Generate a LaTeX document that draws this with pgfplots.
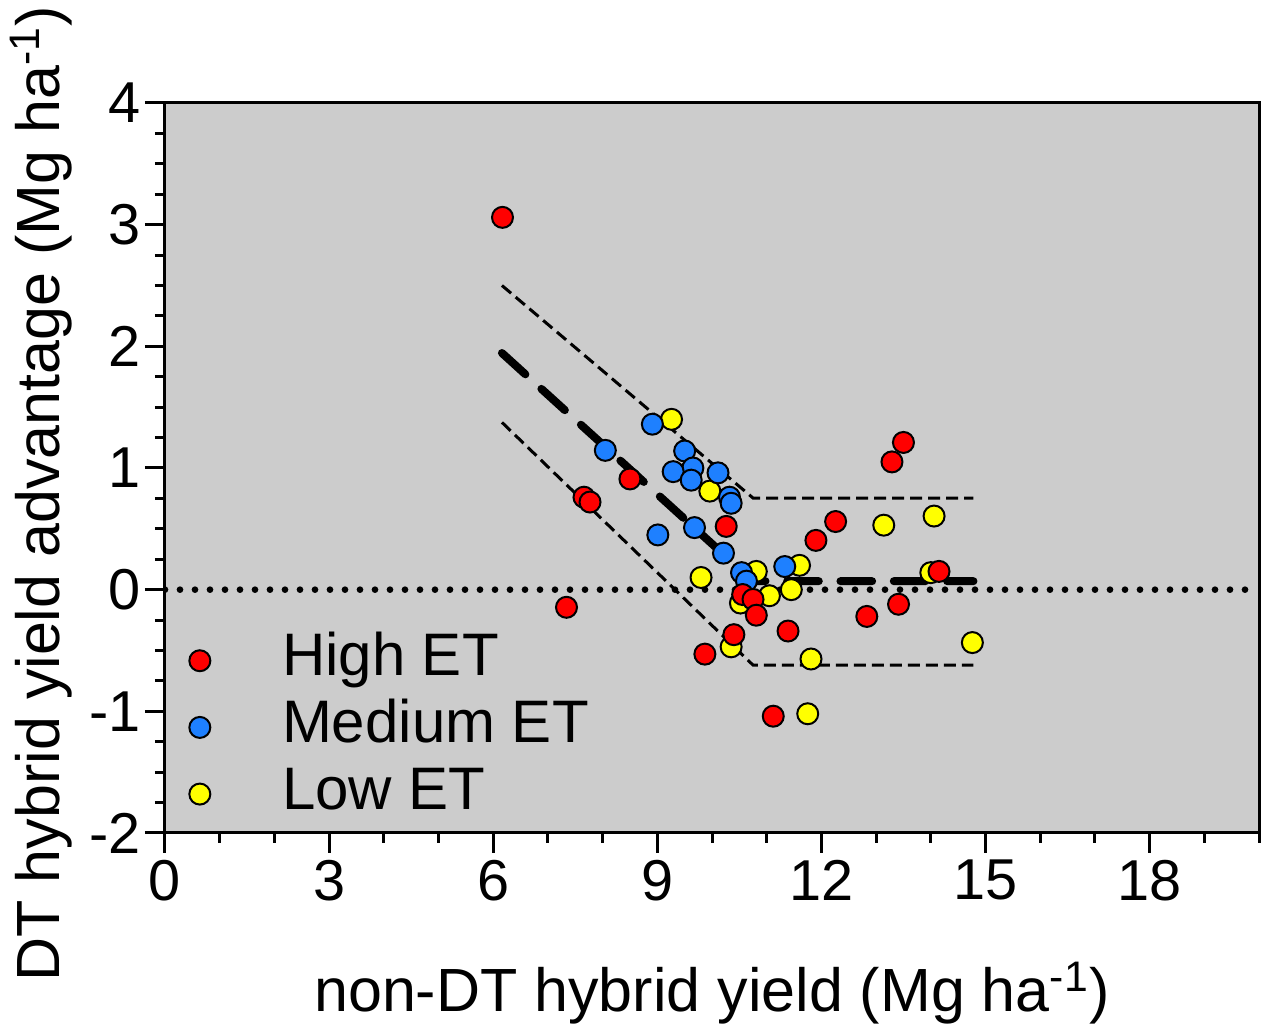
\documentclass[border=0pt]{standalone}
\usepackage{fontspec}
\setmainfont{Liberation Sans}
\usepackage{pgfplots}
\pgfplotsset{compat=1.18}
\definecolor{bg}{RGB}{204,204,204}
\definecolor{myred}{RGB}{255,0,0}
\definecolor{myblue}{RGB}{30,128,255}
\definecolor{myyellow}{RGB}{255,255,0}
\begin{document}
\begin{tikzpicture}
\begin{axis}[
  scale only axis, width=328.2pt, height=219pt,
  xmin=0, xmax=20, ymin=-2, ymax=4,
  xtick={0,3,...,18},
  minor xtick={1,2,4,5,7,8,10,11,13,14,16,17,19,20},
  ytick={-2,-1,...,4}, minor y tick num=3,
  tick align=outside, tick pos=left,
  major tick length=6pt, minor tick length=3pt,
  every tick/.style={black, line width=0.9pt},
  axis line style={line width=0.9pt},
  axis background/.style={fill=bg},
  /pgf/number format/assume math mode=true,
  tick label style={font=\fontsize{17.3}{20}\selectfont, inner sep=1pt},
  xticklabel style={yshift=-1pt},
  label style={font=\fontsize{18.3}{22}\selectfont},
  xlabel={non-DT hybrid yield (Mg ha\textsuperscript{-1})},
  ylabel={DT hybrid yield advantage (Mg ha\textsuperscript{-1})},
  xlabel style={at={(axis description cs:0.5,-0.2452)}, anchor=base},
  ylabel style={at={(axis description cs:-0.096,0.465)}, anchor=base},
  reverse legend,
  legend style={draw=none, fill=none, at={(axis cs:0.25,-0.25)}, anchor=north west,
    font=\fontsize{18}{21}\selectfont, row sep=0pt,
    nodes={inner sep=1pt, text height=13.5pt, text depth=4.5pt},
    /tikz/every odd column/.append style={column sep=20.5pt}},
  legend cell align=left,
]
% regression lines
\addplot[black, line width=2pt, line cap=round, dash pattern=on 0pt off 4.5pt, forget plot]
  coordinates {(0,0) (20,0)};
\addplot[black, line width=0.9pt, dash pattern=on 3.6pt off 1.8pt, forget plot]
  coordinates {(6.16,2.50) (10.75,0.753) (14.78,0.753)};
\addplot[black, line width=0.9pt, dash pattern=on 3.6pt off 1.8pt, forget plot]
  coordinates {(6.16,1.375) (10.75,-0.62) (14.78,-0.62)};
\addplot[black, line width=2.4pt, line cap=round, dash pattern=on 9.5pt off 6.5pt, forget plot]
  coordinates {(6.16,1.945) (10.75,0.07) (14.78,0.07)};
% Low ET
\addplot[only marks, mark=*, mark size=3.15pt, mark options={fill=myyellow, draw=black, line width=0.6pt}]
  coordinates {
  (9.26,1.40) (9.96,0.81) (9.80,0.10) (10.81,0.15) (11.05,-0.05) (11.45,0.0)
  (11.60,0.20) (10.52,-0.11) (10.35,-0.47) (11.81,-0.57) (11.75,-1.02)
  (13.14,0.53) (14.06,0.605) (14.00,0.14) (14.76,-0.435)
  };
\addlegendentry{Low ET}
% Medium ET
\addplot[only marks, mark=*, mark size=3.15pt, mark options={fill=myblue, draw=black, line width=0.6pt}]
  coordinates {
  (8.91,1.36) (8.05,1.145) (9.50,1.14) (9.65,1.00) (9.29,0.97) (9.62,0.90)
  (10.11,0.96) (10.32,0.76) (10.35,0.71) (9.01,0.45) (9.68,0.51) (10.21,0.30)
  (10.54,0.14) (10.63,0.07) (11.33,0.19)
  };
\addlegendentry{Medium ET}
% High ET
\addplot[only marks, mark=*, mark size=3.15pt, mark options={fill=myred, draw=black, line width=0.6pt}]
  coordinates {
  (6.17,3.06) (7.66,0.76) (7.77,0.72) (8.50,0.91) (7.34,-0.145) (10.26,0.52)
  (9.87,-0.53) (10.40,-0.37) (10.56,-0.04) (10.75,-0.08) (10.81,-0.21)
  (11.39,-0.34) (11.12,-1.04) (11.90,0.405) (12.26,0.56) (13.29,1.05)
  (13.50,1.21) (14.15,0.15) (13.41,-0.12) (12.83,-0.22)
  };
\addlegendentry{High ET}
\end{axis}
\pgfresetboundingbox
\path (-49.5pt,-59.4pt) rectangle (330.6pt,249.9pt);
\end{tikzpicture}
\end{document}
